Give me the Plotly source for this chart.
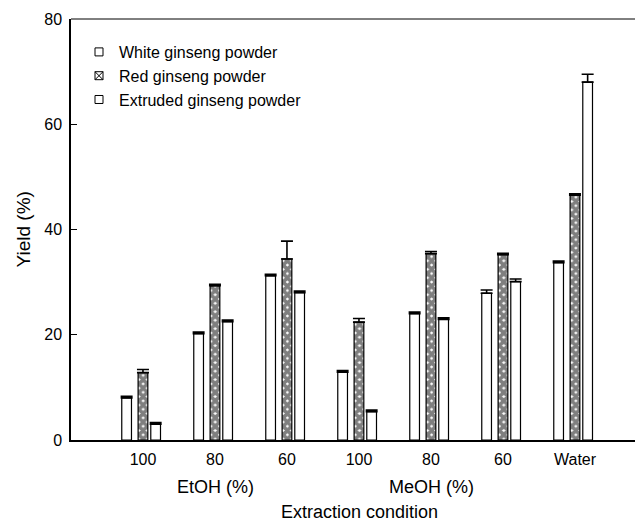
import plotly.graph_objects as go

categories = ["100", "80", "60", "100", "80", "60", "Water"]
white = [8.0, 20.2, 31.2, 12.9, 24.0, 27.9, 33.7]
white_err = [0.3, 0.3, 0.3, 0.3, 0.3, 0.6, 0.3]
red = [12.8, 29.3, 34.4, 22.4, 35.4, 35.2, 46.5]
red_err = [0.6, 0.3, 3.4, 0.7, 0.4, 0.3, 0.3]
extruded = [3.0, 22.5, 28.0, 5.4, 22.9, 30.1, 68.0]
extruded_err = [0.3, 0.3, 0.3, 0.3, 0.3, 0.5, 1.5]
group_labels = ["EtOH (%)", "MeOH (%)"]
y_ticks = [0, 20, 40, 60, 80]

xpos = list(range(1, len(categories) + 1))
FONT = "Liberation Sans, Arial, sans-serif"
BW = 0.135


def err(vals):
    return dict(type="data", array=vals, arrayminus=[0] * len(vals), symmetric=False,
                color="black", thickness=1.6, width=6)


fig = go.Figure()
fig.add_bar(x=xpos, y=white, error_y=err(white_err), width=BW, offset=-0.295,
            marker=dict(color="white", line=dict(color="black", width=1.2)), showlegend=False)
fig.add_bar(x=xpos, y=red, error_y=err(red_err), width=BW, offset=-0.068,
            marker=dict(color="white", line=dict(color="black", width=1.2),
                        pattern=dict(shape="x", fgcolor="black", bgcolor="white", size=6, solidity=0.85)),
            showlegend=False)
fig.add_bar(x=xpos, y=extruded, error_y=err(extruded_err), width=BW, offset=0.108,
            marker=dict(color="white", line=dict(color="black", width=1.2)), showlegend=False)

# legend entries
for name, sym in [("White ginseng powder", "square-open"),
                  ("Red ginseng powder", "square-x-open"),
                  ("Extruded ginseng powder", "square-open")]:
    fig.add_scatter(x=[None], y=[None], mode="markers", name=name,
                    marker=dict(symbol=sym, size=8, color="black", line=dict(width=1)))

annotations = [
    dict(text=group_labels[0], x=2, xref="x", y=-0.112, yref="paper", showarrow=False,
         font=dict(size=18), yanchor="middle"),
    dict(text=group_labels[1], x=5, xref="x", y=-0.112, yref="paper", showarrow=False,
         font=dict(size=18), yanchor="middle"),
    dict(text="Extraction condition", x=4, xref="x", y=-0.171, yref="paper", showarrow=False,
         font=dict(size=18), yanchor="middle"),
    dict(text="Yield (%)", x=0, xref="paper", xshift=-48, y=0.5, yref="paper", showarrow=False,
         textangle=-90, font=dict(size=19), xanchor="center", yanchor="middle"),
]

fig.update_layout(
    width=635, height=516,
    margin=dict(l=63, r=0, t=11, b=84),
    paper_bgcolor="white", plot_bgcolor="white",
    font=dict(family=FONT, size=16, color="black"),
    barmode="overlay",
    annotations=annotations,
    shapes=[dict(type="line", xref="paper", yref="paper", x0=0, x1=1, y0=1, y1=1,
                 line=dict(color="black", width=1))],
    legend=dict(x=0.014, y=0.962, xanchor="left", yanchor="top", bgcolor="rgba(0,0,0,0)",
                font=dict(size=16), tracegroupgap=0),
    xaxis=dict(range=[0, 572 / 72], tickvals=xpos, ticktext=categories, showgrid=False,
               zeroline=False, showline=True, linecolor="black", linewidth=1.5, ticks="",
               ticklabelstandoff=4),
    yaxis=dict(range=[0, 80], tickvals=y_ticks, showgrid=False, zeroline=False,
               showline=True, linecolor="black", linewidth=1.5, ticks="inside", ticklen=6,
               tickcolor="black", ticklabelstandoff=4),
)

fig.write_html("out.html")
